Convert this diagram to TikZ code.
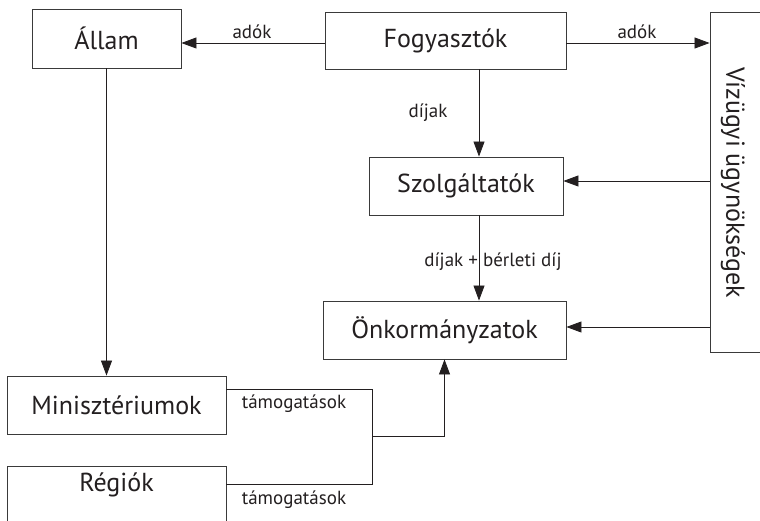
\documentclass[tikz,border=0pt]{standalone}
\usepackage{fontspec}
\setmainfont{PT Sans}
\usetikzlibrary{calc,arrows.meta}
\definecolor{ink}{HTML}{231F20}
\definecolor{frame}{HTML}{3A3A3A}
\begin{document}
\begin{tikzpicture}[x=1pt,y=-1pt,
  box/.style={draw=frame,line width=0.9pt,inner sep=0pt,text=ink,font=\fontsize{26}{30}\selectfont},
  lbl/.style={text=ink,inner sep=0pt,font=\fontsize{19}{22}\selectfont},
  flow/.style={draw=ink,line width=0.8pt,-{Triangle[length=15pt,width=11pt]}},
  link/.style={draw=ink,line width=0.8pt}]
\useasboundingbox (0,0) rectangle (760,521);
\clip (0,0) rectangle (760,521);

% boxes
\node[box,minimum width=149,minimum height=59] (allam) at (106.5,38.5) {Állam};
\node[box,minimum width=241,minimum height=57] (fogy) at (445.5,40.5) {Fogyasztók};
\node[box,minimum width=60,minimum height=340] (viz) at (740,182) {};
\node[text=ink,inner sep=0pt,font=\fontsize{26}{30}\selectfont,rotate=-90] (viztext) at (733,183) {Vízügyi ügynökségek};
\node[box,minimum width=194,minimum height=58] (szolg) at (466,186) {Szolgáltatók};
\node[box,minimum width=243,minimum height=58] (onk) at (444.5,330) {Önkormányzatok};
\node[box,minimum width=219,minimum height=58] (mini) at (116.5,405) {Minisztériumok};
\node[box,minimum width=219,minimum height=70] (regiok) at (116.5,501) {};
\node[text=ink,inner sep=0pt,font=\fontsize{26}{30}\selectfont] (regtext) at (116.5,485) {Régiók};

% connection points
\coordinate (fw) at ($(fogy.west)+(0,2.5)$);
\coordinate (fe) at ($(fogy.east)+(0,2.5)$);
\coordinate (fd) at ($(fogy.south)+(33.5,0)$);
\coordinate (jtop) at ($(mini.east)+(146,-16)$);
\coordinate (jbot) at (jtop |- 0,484);
\coordinate (jmid) at (jtop |- 0,436);

% connectors
\draw[flow] (fw) -- (allam.east |- fw);
\draw[flow] (fe) -- (viz.west |- fe);
\draw[flow] (fd) -- (fd |- szolg.north);
\draw[flow] (viz.west |- 0,181) -- (szolg.east |- 0,181);
\draw[flow] (fd |- szolg.south) -- (fd |- onk.north);
\draw[flow] (viz.west |- 0,327) -- (onk.east |- 0,327);
\draw[flow] (allam.south) -- (allam.south |- mini.north);
\draw[link] (mini.east |- jtop) -- (jtop) -- (jbot) -- (regiok.east |- jbot);
\draw[flow] (jmid) -- (onk.south |- jmid) -- (onk.south);

% labels
\node[lbl] (l1) at (252,32) {adók};
\node[lbl] (l2) at (637,32) {adók};
\node[lbl] (l3) at (428,113) {díjak};
\node[lbl] (l4) at (493,262) {díjak + bérleti díj};
\node[lbl] (l5) at (294,404) {támogatások};
\node[lbl] (l6) at (294,500) {támogatások};
\end{tikzpicture}
\end{document}
